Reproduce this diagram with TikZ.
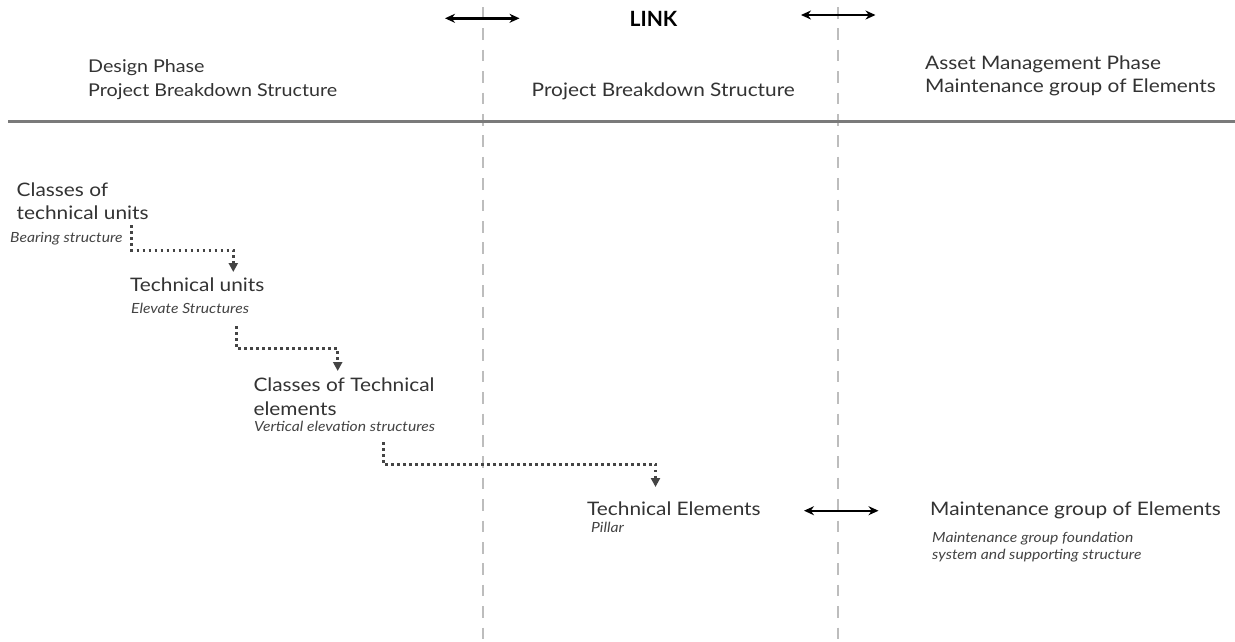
\documentclass[tikz,border=0pt]{standalone}
\usepackage{fontspec}
\setmainfont{Lato}[FakeStretch=1.12]
\newfontfamily\linkfont{Lato}
\usetikzlibrary{arrows.meta}
\definecolor{ink}{HTML}{333333}
\definecolor{inksoft}{HTML}{444444}
\definecolor{rulegray}{HTML}{7A7A7A}
\definecolor{dividergray}{HTML}{BDBDBD}
\tikzset{
  title/.style={font=\fontsize{18.6}{22}\selectfont, text=ink, inner sep=0pt, anchor=base west},
  headtitle/.style={title, font=\fontsize{17.6}{22}\selectfont},
  note/.style={font=\fontsize{14}{16}\selectfont\itshape, text=inksoft, inner sep=0pt, anchor=base west},
  linklabel/.style={font=\linkfont\fontsize{21}{24}\selectfont\bfseries, text=black, inner sep=0pt, anchor=base},
  divider/.style={draw=dividergray, line width=2pt, dash pattern=on 11.5pt off 9.9pt},
  headrule/.style={draw=rulegray, line width=3pt},
  flow/.style={draw=inksoft, line width=3pt, line cap=butt, dash pattern=on 2.6pt off 3.4pt,
    -{Triangle[width=9pt,length=9pt]}},
  linkarrow/.style={draw=black, line width=2.4pt,
    {Stealth[length=10pt,width=9pt]}-{Stealth[length=10pt,width=9pt]}}
}
\begin{document}
\begin{tikzpicture}[x=1pt,y=-1pt]
\useasboundingbox[fill=white] (0,0) rectangle (1235,641);

% column dividers and header rule
\coordinate (d1t) at (483,7);   \coordinate (d1b) at (483,641);
\coordinate (d2t) at (837.5,7); \coordinate (d2b) at (837.5,641);
\draw[divider] (d1t) -- (d1b);
\draw[divider] (d2t) -- (d2b);
\coordinate (rl) at (8,121); \coordinate (rr) at (1235,121);
\draw[headrule] (rl) -- (rr);

% LINK header with its two arrows
\node[linklabel] (link) at (653.5,26) {LINK};
\coordinate (la1) at (445,18.3); \coordinate (la2) at (519.5,18.3);
\coordinate (ra1) at (801,15);   \coordinate (ra2) at (875.5,15);
\draw[linkarrow] (la1) -- (la2);
\draw[linkarrow] (ra1) -- (ra2);

% column headings
\node[headtitle] (dp1) at (88,72.7) {Design Phase};
\node[headtitle] (dp2) at (88,96) {Project Breakdown Structure};
\node[title] (pb)  at (531.5,96) {Project Breakdown Structure};
\node[title] (am1) at (925,69.3) {Asset Management Phase};
\node[title] (am2) at (925,92.7) {Maintenance group of Elements};

% breakdown levels
\node[title] (cu1) at (16.5,196.7) {Classes of};
\node[title] (cu2) at (16.5,219.3) {technical units};
\node[note]  (cun) at (10,242.7) {Bearing structure};

\node[title] (tu)  at (130,291.7) {Technical units};
\node[note]  (tun) at (131,313.3) {Elevate Structures};

\node[title] (ce1) at (253.3,391.7) {Classes of Technical};
\node[title] (ce2) at (253.3,415) {elements};
\node[note]  (cen) at (254,431.7) {Vertical elevation structures};

\node[title] (te)  at (587,515) {Technical Elements};
\node[note]  (ten) at (591,532.7) {Pillar};

\node[title] (mg)  at (930,515) {Maintenance group of Elements};
\node[note]  (mgn1) at (932,542) {Maintenance group foundation};
\node[note]  (mgn2) at (932,559) {system and supporting structure};

% dotted step connectors
\coordinate (s1) at (131.5,225); \coordinate (k1) at (233.3,250); \coordinate (e1) at (233.3,272);
\draw[flow] (s1) |- (k1) -- (e1);
\coordinate (s2) at (236.7,326); \coordinate (k2) at (337.7,348.5); \coordinate (e2) at (337.7,371);
\draw[flow] (s2) |- (k2) -- (e2);
\coordinate (s3) at (383.3,442); \coordinate (k3) at (655.5,464); \coordinate (e3) at (655.5,487);
\draw[flow] (s3) |- (k3) -- (e3);

% link between technical elements and maintenance groups
\coordinate (ba1) at (804,510.7); \coordinate (ba2) at (878.5,510.7);
\draw[linkarrow] (ba1) -- (ba2);
\end{tikzpicture}
\end{document}
